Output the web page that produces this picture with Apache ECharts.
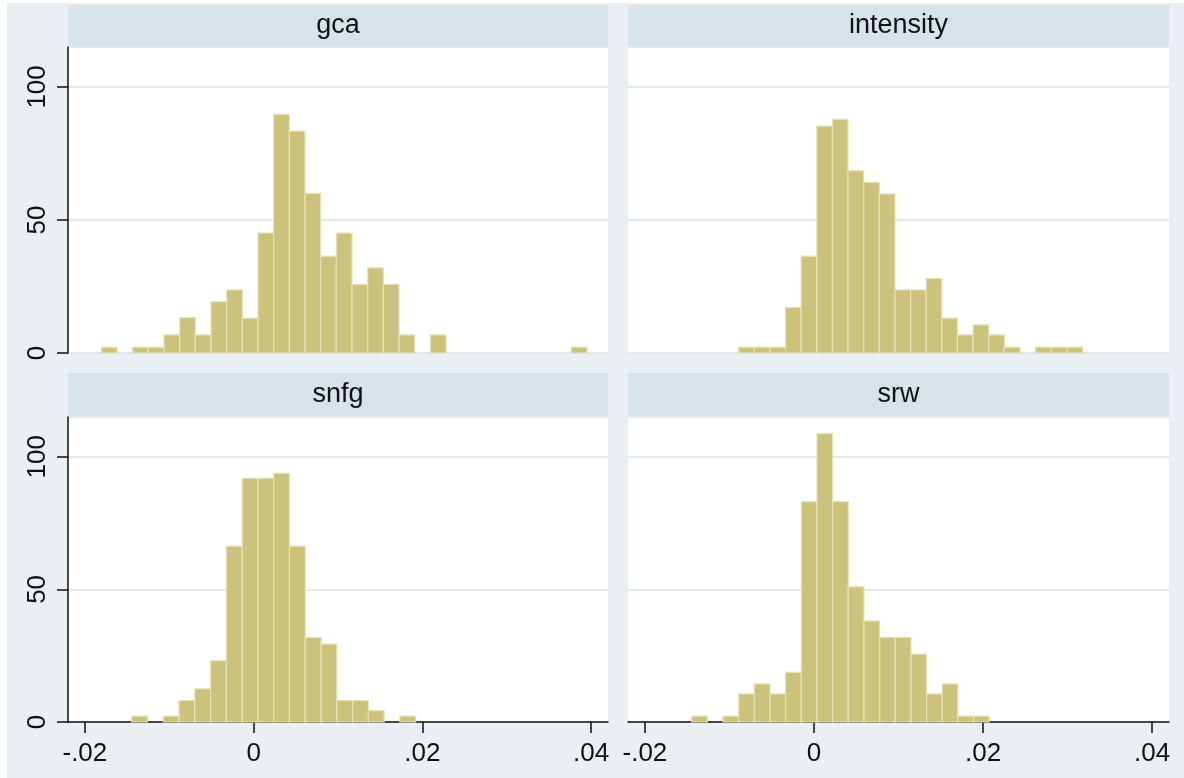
<!DOCTYPE html>
<html>
<head>
<meta charset="utf-8">
<script src="https://cdn.jsdelivr.net/npm/echarts@6/dist/echarts.min.js"></script>
<style>
  html, body { margin: 0; padding: 0; background: #ffffff; }
  #chart { width: 1184px; height: 778px; }
</style>
</head>
<body>
<div id="chart"></div>
<script>
// Panel names
const panelNames = ['gca', 'intensity', 'snfg', 'srw'];

// Histogram bins: left edge of first bin, bin width, and bar heights (density)
const gcaStart = -0.01805;
const gcaWidth = 0.001857;
const gcaValues = [2.2, 0, 2.2, 2.2, 6.8, 13.3, 6.8, 19.3, 23.7, 13.1, 45.1, 89.7, 83.4, 60.0, 36.4, 45.1, 25.8, 32.0, 25.8, 6.8, 0, 6.8, 0, 0, 0, 0, 0, 0, 0, 0, 2.2];

const intensityStart = -0.00891;
const intensityWidth = 0.001849;
const intensityValues = [2.2, 2.2, 2.2, 17.1, 36.4, 85.3, 87.8, 68.5, 64.1, 59.8, 23.7, 23.7, 28.0, 13.1, 6.8, 10.6, 6.8, 2.2, 0, 2.2, 2.2, 2.2];

const snfgStart = -0.01445;
const snfgWidth = 0.00187;
const snfgValues = [2.2, 0, 2.2, 8.1, 12.5, 23.1, 66.3, 91.9, 91.9, 93.8, 66.3, 31.9, 29.4, 8.1, 8.1, 4.3, 0, 2.2];

const srwStart = -0.01447;
const srwWidth = 0.001853;
const srwValues = [2.2, 0, 2.2, 10.6, 14.4, 10.6, 18.75, 83.1, 108.75, 83.1, 51, 38.1, 31.9, 31.9, 25.6, 10.6, 14.4, 2.2, 2.2];

// Axis ticks
const xTicks = [-0.02, 0, 0.02, 0.04];
const xTickLabels = ['-.02', '0', '.02', '.04'];
const yTicks = [0, 50, 100];

function buildBins(start, width, values) {
  return values.map((v, i) => [start + i * width, start + (i + 1) * width, v]);
}

const panelData = [
  buildBins(gcaStart, gcaWidth, gcaValues),
  buildBins(intensityStart, intensityWidth, intensityValues),
  buildBins(snfgStart, snfgWidth, snfgValues),
  buildBins(srwStart, srwWidth, srwValues)
];

const FONT = "'Liberation Sans', Arial, Helvetica, sans-serif";
const BG = '#eaeff3';
const STRIP = '#d8e2e9';
const GRIDLINE = '#e3eaee';
const BAR = '#ccc27c';
const BAR_EDGE = '#e7e1b9';
const INK = '#111111';

// Layout of the four panels
const cols = [{ left: 68, width: 540 }, { left: 628, width: 541 }];
const rows = [{ top: 47, height: 306, stripTop: 5 }, { top: 417, height: 305, stripTop: 373 }];

const grids = [], xAxes = [], yAxes = [], series = [], titles = [], graphics = [];

graphics.push({ type: 'rect', shape: { x: 0, y: 0, width: 1184, height: 3 }, style: { fill: '#ffffff' }, silent: true });
graphics.push({ type: 'rect', shape: { x: 0, y: 0, width: 7, height: 778 }, style: { fill: '#ffffff' }, silent: true });

for (let r = 0; r < 2; r++) {
  for (let c = 0; c < 2; c++) {
    const i = r * 2 + c;
    const col = cols[c], row = rows[r];
    grids.push({
      left: col.left, top: row.top, width: col.width, height: row.height,
      show: true, backgroundColor: '#ffffff', borderWidth: 0
    });
    graphics.push({
      type: 'rect',
      shape: { x: col.left, y: row.stripTop, width: col.width, height: row.top - row.stripTop },
      style: { fill: STRIP }, silent: true
    });
    titles.push({
      text: panelNames[i],
      left: col.left + col.width / 2,
      top: row.stripTop + (row.top - row.stripTop) / 2,
      textAlign: 'center',
      textVerticalAlign: 'middle',
      padding: 0,
      textStyle: { fontFamily: FONT, fontSize: 27, fontWeight: 'normal', color: INK }
    });
    const isBottom = r === 1;
    const isLeft = c === 0;
    xAxes.push({
      type: 'value', gridIndex: i, min: -0.022, max: 0.042,
      show: true,
      axisLine: { show: isBottom, onZero: false, lineStyle: { color: INK, width: 1.5 } },
      axisTick: { show: isBottom, length: 11, customValues: xTicks, lineStyle: { color: INK, width: 1.5 } },
      axisLabel: {
        show: isBottom, customValues: xTicks, margin: 19,
        fontFamily: FONT, fontSize: 26, color: INK,
        formatter: function (v) {
          const k = xTicks.findIndex(t => Math.abs(t - v) < 1e-9);
          return k >= 0 ? xTickLabels[k] : '';
        }
      },
      splitLine: { show: false }
    });
    yAxes.push({
      type: 'value', gridIndex: i, min: 0, max: 115, interval: 50,
      axisLine: { show: isLeft, onZero: false, lineStyle: { color: INK, width: 1.5 } },
      axisTick: { show: isLeft, length: 11, lineStyle: { color: INK, width: 1.5 } },
      axisLabel: {
        show: isLeft, rotate: 90, margin: 17,
        fontFamily: FONT, fontSize: 26, color: INK,
        showMaxLabel: false
      },
      splitLine: { show: true, lineStyle: { color: GRIDLINE, width: 2 } }
    });
    series.push({
      type: 'custom',
      name: panelNames[i],
      xAxisIndex: i, yAxisIndex: i,
      encode: { x: [0, 1], y: 2 },
      data: panelData[i],
      renderItem: function (params, api) {
        const v = api.value(2);
        if (!v) return null;
        const p0 = api.coord([api.value(0), v]);
        const p1 = api.coord([api.value(1), 0]);
        return {
          type: 'rect',
          shape: { x: p0[0], y: p0[1], width: p1[0] - p0[0], height: p1[1] - p0[1] },
          style: { fill: BAR, stroke: BAR_EDGE, lineWidth: 1.2 }
        };
      }
    });
  }
}

const chart = echarts.init(document.getElementById('chart'), null, { renderer: 'canvas' });
chart.setOption({
  backgroundColor: BG,
  animation: false,
  title: titles,
  grid: grids,
  xAxis: xAxes,
  yAxis: yAxes,
  series: series,
  graphic: graphics
});
</script>
</body>
</html>
